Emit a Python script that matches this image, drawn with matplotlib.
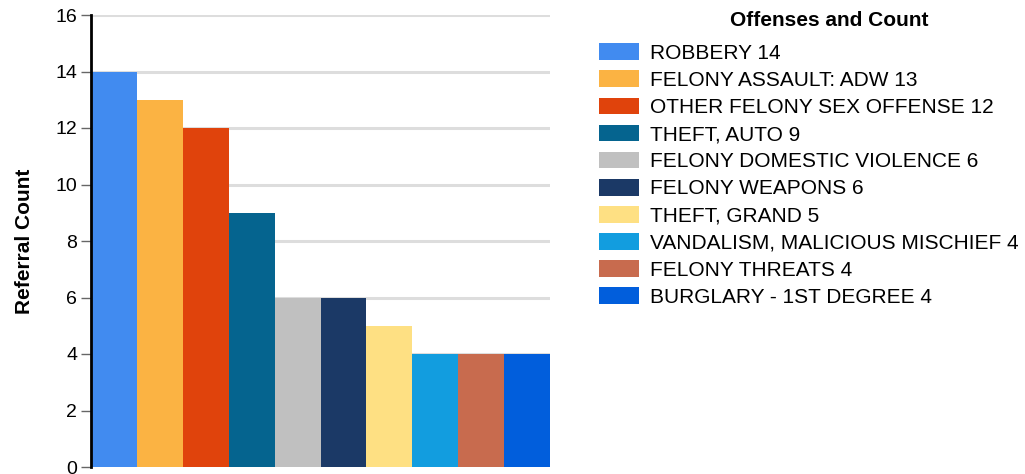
import matplotlib
matplotlib.use("Agg")
import matplotlib.pyplot as plt

plt.rcParams["font.family"] = ["Liberation Sans", "DejaVu Sans"]

offenses = [
    "ROBBERY",
    "FELONY ASSAULT: ADW",
    "OTHER FELONY SEX OFFENSE",
    "THEFT, AUTO",
    "FELONY DOMESTIC VIOLENCE",
    "FELONY WEAPONS",
    "THEFT, GRAND",
    "VANDALISM, MALICIOUS MISCHIEF",
    "FELONY THREATS",
    "BURGLARY - 1ST DEGREE",
]
counts = [14, 13, 12, 9, 6, 6, 5, 4, 4, 4]
colors = [
    "#418bf0", "#fbb343", "#e0430c", "#05648f", "#c0c0c0",
    "#1b3966", "#fee083", "#129ddf", "#c86b4e", "#015edc",
]
yticks = [0, 2, 4, 6, 8, 10, 12, 14, 16]

fig = plt.figure(figsize=(10.25, 4.74), dpi=100)
ax = fig.add_axes([91 / 1025, 7 / 474, 459 / 1025, 452 / 474])

x = list(range(len(counts)))
bars = ax.bar(x, counts, width=1.0, color=colors, zorder=3)

ax.set_xlim(-0.5, len(counts) - 0.5)
ax.set_ylim(0, 16)
ax.set_yticks(yticks)
ax.set_xticks([])
ax.grid(axis="y", color="#dddddd", linewidth=2.2, zorder=0)
ax.axhline(0, color="#dddddd", linewidth=2.5, zorder=2)
ax.tick_params(axis="y", length=7, width=1, color="#666666", labelsize=14, pad=3)

for s in ["top", "right", "bottom"]:
    ax.spines[s].set_visible(False)
ax.spines["left"].set_linewidth(2)
ax.spines["left"].set_color("black")
ax.spines["left"].set_zorder(4)

ax.set_ylabel("Referral Count", fontsize=15, fontweight="bold", labelpad=15)

labels = [f"{o} {c}" for o, c in zip(offenses, counts)]
fig.legend(
    bars, labels,
    loc="upper left",
    bbox_to_anchor=(591 / 1025, 1 - 35 / 474),
    frameon=False,
    fontsize=15,
    handlelength=1.9,
    handleheight=0.85,
    handletextpad=0.55,
    labelspacing=0.365,
    borderaxespad=0,
)
fig.text(829 / 1025, 1 - 20 / 474, "Offenses and Count", ha="center", va="center",
         fontsize=15, fontweight="bold")

fig.savefig("out.png", dpi=100)
